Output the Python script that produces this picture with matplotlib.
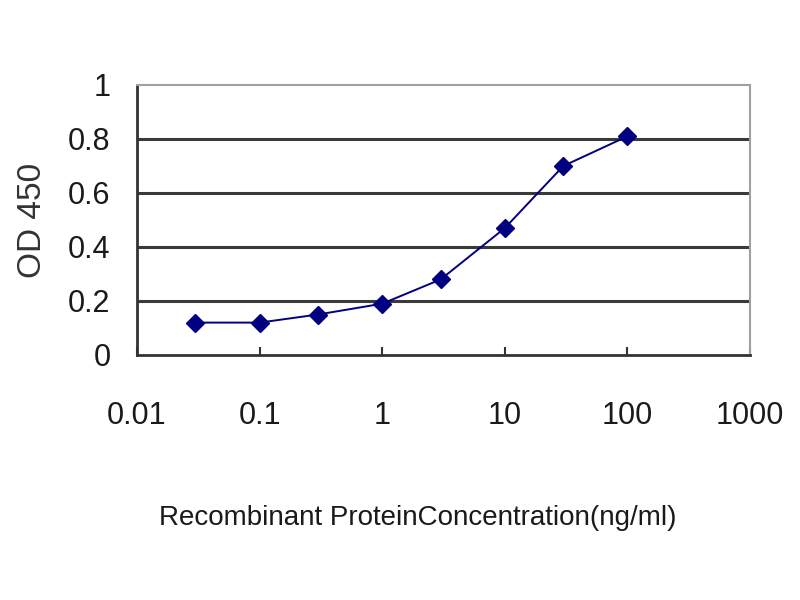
import matplotlib.pyplot as plt
from matplotlib.ticker import FixedLocator, NullLocator

# concentration (ng/ml) and OD450 readings
conc = [0.03, 0.1, 0.3, 1, 3, 10, 30, 100]
od450 = [0.12, 0.12, 0.15, 0.19, 0.28, 0.47, 0.70, 0.81]

x_ticks = [0.01, 0.1, 1, 10, 100, 1000]
x_labels = ['0.01', '0.1', '1', '10', '100', '1000']
y_ticks = [0, 0.2, 0.4, 0.6, 0.8, 1]
y_labels = ['0', '0.2', '0.4', '0.6', '0.8', '1']

plt.rcParams['font.family'] = ['Liberation Sans', 'DejaVu Sans']

dpi = 100
fig = plt.figure(dpi=dpi, figsize=(800 / dpi, 600 / dpi))
ax = fig.add_axes([137 / 800, 1 - 355 / 600, 613 / 800, 270 / 600])

ax.set_xscale('log')
ax.set_xlim(0.01, 1000)
ax.set_ylim(0, 1)

for v in y_ticks[1:-1]:
    ax.axhline(v, color='#3a3a3a', linewidth=2.2, zorder=1)

ax.plot(conc, od450, color='#000080', linewidth=1.4, marker='D',
        markersize=9.5, markerfacecolor='#000080', markeredgecolor='#000080', zorder=3)

ax.xaxis.set_major_locator(FixedLocator(x_ticks))
ax.xaxis.set_minor_locator(NullLocator())
ax.set_xticklabels(x_labels)
ax.set_yticks(y_ticks)
ax.set_yticklabels(y_labels)

ax.tick_params(axis='x', direction='in', length=6, width=1.5, color='#333333',
               labelsize=22, pad=33, labelcolor='#1a1a1a')
ax.tick_params(axis='y', length=0, labelsize=22, pad=19, labelcolor='#1a1a1a')

for s in ['left', 'bottom']:
    ax.spines[s].set_color('#333333')
    ax.spines[s].set_linewidth(2)
for s in ['top', 'right']:
    ax.spines[s].set_color('#a0a0a0')
    ax.spines[s].set_linewidth(1.5)

ax.set_ylabel('OD 450', fontsize=24, color='#333333')
ax.yaxis.set_label_coords(-0.145, 0.5)
ax.set_xlabel('Recombinant ProteinConcentration(ng/ml)', fontsize=20, color='#1a1a1a')
ax.xaxis.set_label_coords(0.458, -0.555)

fig.savefig('out.png')
